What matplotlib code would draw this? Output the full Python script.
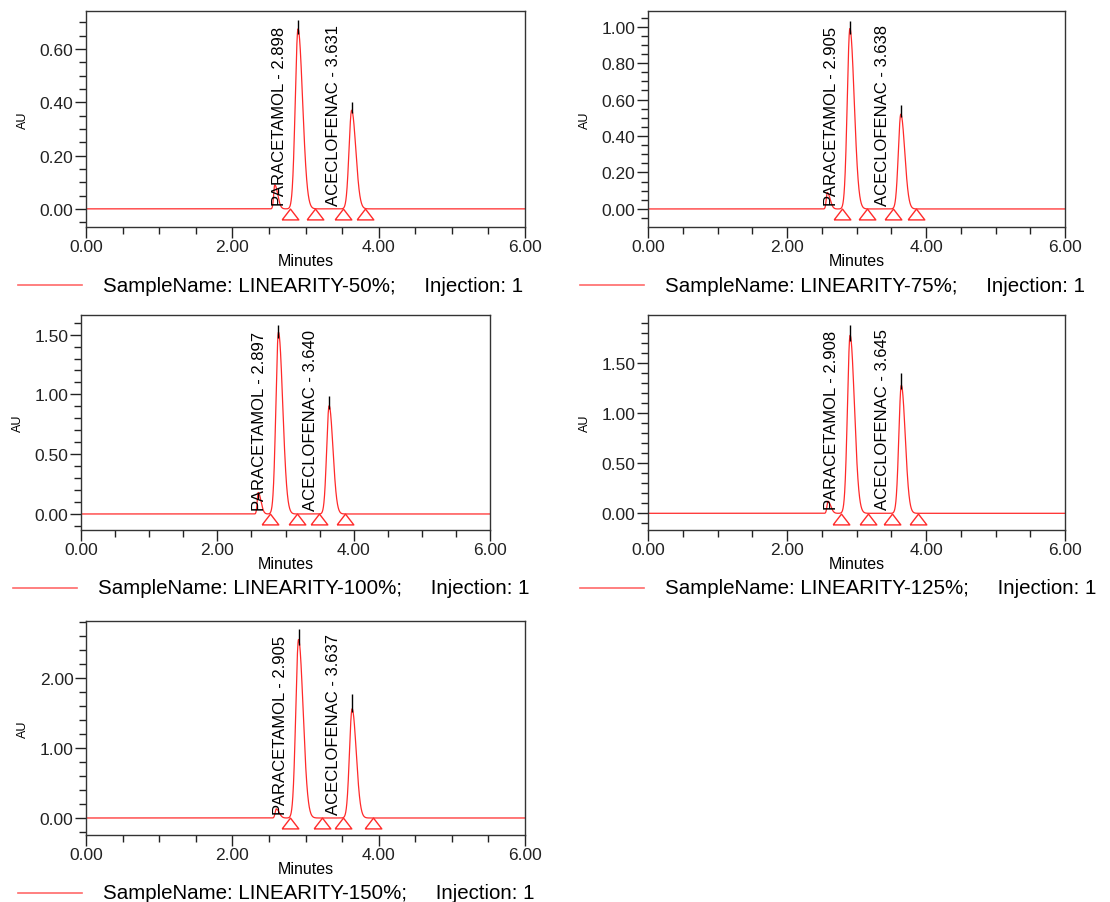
import matplotlib
matplotlib.use('Agg')
import matplotlib.pyplot as plt
import matplotlib.transforms as mtransforms
from matplotlib.lines import Line2D
from matplotlib.ticker import MultipleLocator, FormatStrFormatter
import numpy as np

plt.rcParams['font.family'] = ['Liberation Sans', 'DejaVu Sans']

W, H = 1110, 903
RED = '#ff2a2a'

# sample runs
sample_names = ['LINEARITY-50%', 'LINEARITY-75%', 'LINEARITY-100%',
                'LINEARITY-125%', 'LINEARITY-150%']

# retention times (min)
para_rt = [2.898, 2.905, 2.897, 2.908, 2.905]
acec_rt = [3.631, 3.638, 3.640, 3.645, 3.637]

# peak heights (AU): red trace apex and black apex marker top
para_height = [0.675, 0.99, 1.52, 1.78, 2.55]
para_apex = [0.71, 1.03, 1.58, 1.88, 2.70]
acec_height = [0.37, 0.52, 0.905, 1.28, 1.56]
acec_apex = [0.40, 0.57, 0.99, 1.40, 1.77]

# small front peak just before paracetamol
front_rt = [2.58, 2.58, 2.60, 2.59, 2.60]
front_height = [0.09, 0.09, 0.18, 0.12, 0.13]

# peak widths (min): left / right half
para_width = (0.038, 0.062)
acec_width = (0.036, 0.056)
front_width = (0.015, 0.040)

# integration start / end marks (min)
peak_marks = [
    [2.79, 3.13, 3.51, 3.81],
    [2.79, 3.15, 3.52, 3.85],
    [2.77, 3.17, 3.49, 3.87],
    [2.78, 3.17, 3.51, 3.89],
    [2.79, 3.22, 3.51, 3.92],
]

y_limits = [(-0.068, 0.742), (-0.099, 1.086), (-0.134, 1.664),
            (-0.167, 1.983), (-0.243, 2.814)]
y_major = [0.2, 0.2, 0.5, 0.5, 1.0]
y_minor = [0.05, 0.05, 0.1, 0.1, 0.2]

# axes boxes in pixels: left, top, right, bottom
panel_boxes = [
    (86, 12, 525, 228),
    (648, 12, 1065, 228),
    (81, 316, 490, 531),
    (648, 316, 1065, 531),
    (86, 622, 525, 836),
]


def peak(t, rt, h, widths):
    s = np.where(t < rt, widths[0], widths[1])
    return h * np.exp(-0.5 * ((t - rt) / s) ** 2)


def px_offset(fig, ax, dx, dy):
    # shift data coords by a number of pixels
    return ax.transData + mtransforms.ScaledTranslation(dx / fig.dpi, dy / fig.dpi,
                                                         fig.dpi_scale_trans)


def plot_panel(fig, i):
    l, t, r, b = panel_boxes[i]
    ax = fig.add_axes([l / W, 1 - b / H, (r - l) / W, (b - t) / H])
    aw, ah = r - l, b - t

    tt = np.linspace(0, 6, 4000)
    trace = (peak(tt, front_rt[i], front_height[i], front_width)
             + peak(tt, para_rt[i], para_height[i], para_width)
             + peak(tt, acec_rt[i], acec_height[i], acec_width))
    ax.plot(tt, trace, color=RED, lw=0.9)

    # apex markers
    ax.vlines([para_rt[i], acec_rt[i]], [para_height[i] * 0.97, acec_height[i] * 0.97],
              [para_apex[i], acec_apex[i]], color='black', lw=1.0)

    # integration marks (open triangles, apex on the baseline)
    tri = [(-1, -0.65), (1, -0.65), (0, 0.65), (-1, -0.65)]
    ax.plot(peak_marks[i], np.zeros(len(peak_marks[i])), linestyle='none',
            marker=tri, ms=12, mfc='none', mec=RED, mew=1.0,
            transform=px_offset(fig, ax, 0, -5.5), clip_on=False)

    # peak labels
    for rt, name in [(para_rt[i], 'PARACETAMOL'), (acec_rt[i], 'ACECLOFENAC')]:
        ax.text(rt, 0, f'{name} - {rt:.3f}', rotation=90, ha='right', va='bottom',
                fontsize=12, transform=px_offset(fig, ax, -11, 4))

    ax.set_xlim(0, 6)
    ax.set_ylim(*y_limits[i])
    ax.xaxis.set_major_locator(MultipleLocator(2))
    ax.xaxis.set_minor_locator(MultipleLocator(0.5))
    ax.yaxis.set_major_locator(MultipleLocator(y_major[i]))
    ax.yaxis.set_minor_locator(MultipleLocator(y_minor[i]))
    ax.xaxis.set_major_formatter(FormatStrFormatter('%.2f'))
    ax.yaxis.set_major_formatter(FormatStrFormatter('%.2f'))
    ax.tick_params(which='major', direction='out', length=8, width=1, pad=1,
                   labelsize=12.5, colors='#222222')
    ax.tick_params(which='minor', direction='out', length=5, width=1, colors='#222222')
    for sp in ax.spines.values():
        sp.set_color('#333333')
        sp.set_linewidth(1.0)

    ax.text(0.5, -34 / ah, 'Minutes', transform=ax.transAxes, ha='center',
            va='center', fontsize=11.5)
    ax.text(-63 / aw, 0.5, 'AU', transform=ax.transAxes, ha='center',
            va='center', rotation=90, fontsize=9)

    # legend row under the panel
    ly = -58 / ah
    ax.add_line(Line2D([-68 / aw, -4 / aw], [ly, ly], transform=ax.transAxes,
                       color='#ff6a6a', lw=1.2, clip_on=False))
    ax.text(17 / aw, ly, f'SampleName: {sample_names[i]};     Injection: 1',
            transform=ax.transAxes, ha='left', va='center', fontsize=14.8)
    return ax


fig = plt.figure(figsize=(W / 100, H / 100), dpi=100)
for i in range(len(sample_names)):
    plot_panel(fig, i)

fig.savefig('out.png', dpi=100)
